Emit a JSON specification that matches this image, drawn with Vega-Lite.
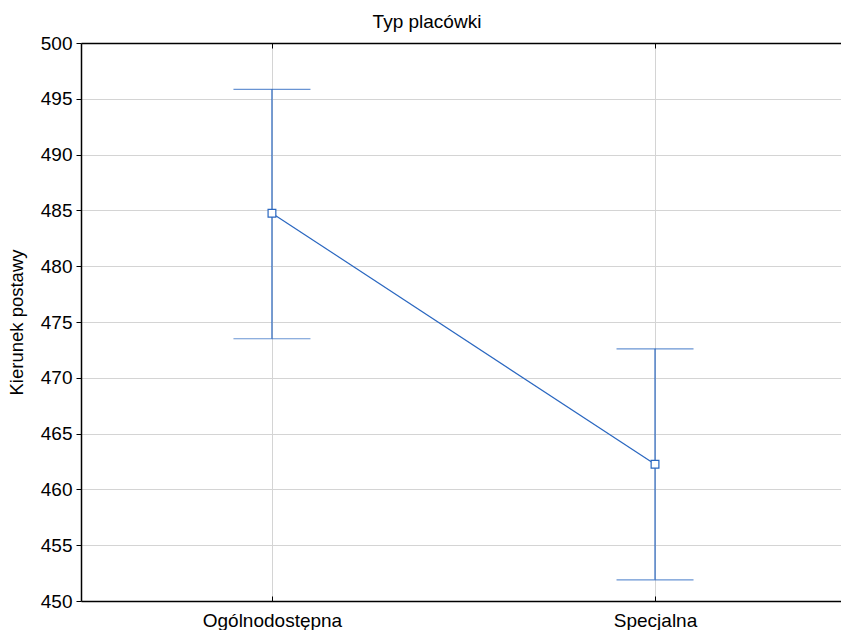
{
  "$schema": "https://vega.github.io/schema/vega-lite/v6.json",
  "autosize": {"type": "none"},
  "width": 760,
  "height": 558,
  "padding": {"left": 81, "top": 43, "right": 0, "bottom": 29},
  "background": "white",
  "title": {"text": "Typ placówki", "fontSize": 19, "font": "Liberation Sans", "fontWeight": "normal", "color": "black", "anchor": "middle", "dx": -34, "offset": 2},
  "config": {
    "view": {"stroke": null},
    "axis": {"labelFont": "Liberation Sans", "titleFont": "Liberation Sans", "labelColor": "black", "titleColor": "black", "domainColor": "black", "tickColor": "black", "gridColor": "#d4d4d4", "labelFontSize": 19, "titleFontSize": 18.5, "titleFontWeight": "normal", "domainWidth": 1.5}
  },
  "data": {"values": [
    {"typ": "Ogólnodostępna", "mean": 484.75, "lo": 473.5, "hi": 495.85},
    {"typ": "Specjalna", "mean": 462.25, "lo": 451.9, "hi": 472.6}
  ]},
  "encoding": {
    "x": {"field": "typ", "type": "nominal", "sort": null, "axis": null, "scale": {"type": "point", "padding": 0.492, "align": 0.5066}}
  },
  "layer": [
    {
      "mark": {"type": "rule", "color": "#2a67c0", "strokeWidth": 1.2},
      "encoding": {
        "x": {"field": "typ", "type": "nominal", "sort": null, "axis": {"orient": "bottom", "title": null, "labelAngle": 0, "grid": true, "tickSize": -5, "labelPadding": 15}},
        "y": {"field": "lo", "type": "quantitative", "scale": {"domain": [450, 500], "nice": false, "zero": false}, "axis": {"title": "Kierunek postawy", "values": [450,455,460,465,470,475,480,485,490,495,500], "tickSize": 5, "labelPadding": 4, "titlePadding": 14, "grid": true}},
        "y2": {"field": "hi"}
      }
    },
    {
      "mark": {"type": "tick", "orient": "horizontal", "color": "#2a67c0", "size": 77, "thickness": 1.2},
      "encoding": {
        "x": {"field": "typ", "type": "nominal", "sort": null, "axis": {"orient": "top", "title": null, "labels": false, "grid": false, "tickSize": -5}},
        "y": {"field": "lo", "type": "quantitative"}
      }
    },
    {
      "mark": {"type": "tick", "orient": "horizontal", "color": "#2a67c0", "size": 77, "thickness": 1.2},
      "encoding": {
        "y": {"field": "hi", "type": "quantitative"}
      }
    },
    {
      "mark": {"type": "line", "color": "#2a67c0", "strokeWidth": 1.2},
      "encoding": {
        "y": {"field": "mean", "type": "quantitative"}
      }
    },
    {
      "mark": {"type": "point", "shape": "square", "filled": true, "fill": "white", "stroke": "#2a67c0", "strokeWidth": 1.2, "size": 60, "opacity": 1},
      "encoding": {
        "y": {"field": "mean", "type": "quantitative"}
      }
    }
  ],
  "resolve": {"axis": {"x": "independent"}}
}
